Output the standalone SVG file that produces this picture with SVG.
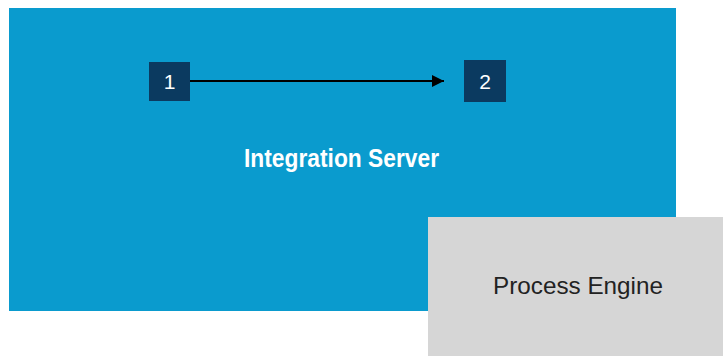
<svg xmlns="http://www.w3.org/2000/svg" width="723" height="356" viewBox="0 0 723 356">
  <style>
    .step rect { fill: #0B3A60; }
    .step text { fill: #FFFFFF; font-family: "Liberation Sans", Arial, sans-serif; font-size: 21px; text-anchor: middle; }
    .conn { stroke: #000000; stroke-width: 2; fill: none; }
  </style>
  <defs>
    <marker id="arrow" viewBox="0 0 10 10" refX="10" refY="5" markerWidth="8" markerHeight="6" markerUnits="strokeWidth" orient="auto">
      <path d="M0,0 L10,5 L0,10 z" fill="#000000"/>
    </marker>
  </defs>
  <rect width="723" height="356" fill="#FFFFFF"/>
  <g id="integration-server">
    <rect x="9" y="8" width="667" height="303" fill="#0A9BCE"/>
    <text x="341.5" y="167" font-family="'Liberation Sans', Arial, sans-serif" font-size="25" font-weight="bold" fill="#FFFFFF" text-anchor="middle" textLength="195" lengthAdjust="spacingAndGlyphs">Integration Server</text>
  </g>
  <g id="step-1" class="step">
    <rect x="149" y="62" width="41" height="39"/>
    <text x="169.5" y="88.5">1</text>
  </g>
  <g id="step-2" class="step">
    <rect x="464" y="60" width="42" height="42"/>
    <text x="485" y="88.5">2</text>
  </g>
  <g id="connectors">
    <line class="conn" x1="190" y1="81" x2="444" y2="81" marker-end="url(#arrow)"/>
  </g>
  <g id="process-engine">
    <rect x="428" y="217" width="295" height="139" fill="#D6D6D6"/>
    <text x="578" y="294" font-family="'Liberation Sans', Arial, sans-serif" font-size="24.5" fill="#222222" text-anchor="middle" textLength="170" lengthAdjust="spacingAndGlyphs">Process Engine</text>
  </g>
</svg>
